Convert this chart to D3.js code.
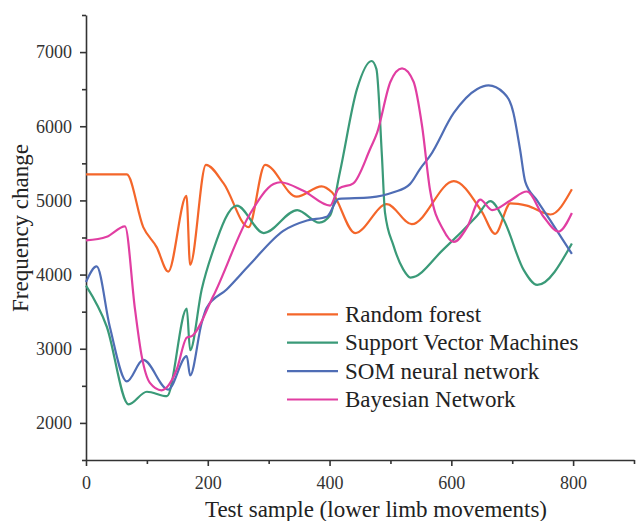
<!DOCTYPE html>
<html>
<head>
<meta charset="utf-8">
<script src="https://cdn.jsdelivr.net/npm/d3@7"></script>
<style>
  body { margin: 0; background: #fff; }
  text { font-family: "Liberation Serif", "Times New Roman", serif; fill: #222; }
</style>
</head>
<body>
<div class="canvas"></div>
<script>
// data
const seriesNames = ['Random forest', 'Support Vector Machines', 'SOM neural network', 'Bayesian Network'];
const seriesColors = ['#f4662a', '#3a9a78', '#4f6db5', '#e13ea2'];

const rfX = [0, 35, 67, 94, 116, 135, 165, 171, 197, 226, 267, 294, 346, 387, 404, 442, 494, 535, 604, 650, 672, 697, 724, 763, 798];
const rfY = [5350, 5350, 5350, 4640, 4370, 4040, 5060, 4130, 5480, 5230, 4640, 5480, 5050, 5190, 5110, 4560, 4950, 4680, 5260, 4850, 4550, 4960, 4930, 4810, 5150];

const svmX = [0, 34, 70, 100, 133, 165.5, 171, 190, 209, 247.6, 292, 347, 383, 401, 417, 445, 469, 477, 486, 491, 505, 521, 533, 587, 642, 664, 686, 719, 741, 798];
const svmY = [3850, 3300, 2250, 2420, 2360, 3540, 2980, 3800, 4330, 4930, 4560, 4870, 4700, 4800, 5380, 6500, 6880, 6770, 5600, 4840, 4390, 4070, 3960, 4340, 4790, 4990, 4740, 4060, 3860, 4420];

const somX = [0, 17.5, 39, 67, 94, 135, 165.5, 171, 190, 198, 231, 269.5, 324, 363, 395.5, 415, 467, 505, 532, 549, 565, 604, 642, 661, 686, 702, 713, 721.5, 740.7, 762.5, 798];
const somY = [3900, 4110, 3300, 2560, 2850, 2450, 2900, 2640, 3350, 3550, 3800, 4140, 4590, 4730, 4780, 5020, 5040, 5110, 5220, 5430, 5600, 6180, 6500, 6550, 6450, 6180, 5680, 5250, 5000, 4730, 4280];

const bnX = [0, 34, 64, 80.5, 91.5, 105, 124, 149, 165.5, 173.7, 209, 269.5, 308, 319, 357, 401, 415, 439, 467, 478, 500, 519, 538, 552, 565, 587, 604, 626, 647.5, 667, 697, 724, 751.5, 776, 798];
const bnY = [4460, 4510, 4650, 3530, 2900, 2540, 2440, 2720, 3150, 3170, 3710, 4820, 5220, 5245, 5130, 4930, 5160, 5230, 5700, 5910, 6600, 6780, 6600, 6000, 5140, 4600, 4440, 4640, 5010, 4870, 5000, 5120, 4780, 4580, 4830];

const xTicks = [0, 200, 400, 600, 800];
const xMinor = [100, 300, 500, 700, 900];
const yTicks = [2000, 3000, 4000, 5000, 6000, 7000];
const yMinor = [1500, 2500, 3500, 4500, 5500, 6500, 7500];

const series = [[rfX, rfY], [svmX, svmY], [somX, somY], [bnX, bnY]];

const width = 636;
const height = 521;

const svg = d3.select('.canvas')
    .append('svg')
    .attr('width', width)
    .attr('height', height);

// scales
const x = d3.scaleLinear().domain([0, 900]).range([86, 634]);
const y = d3.scaleLinear().domain([1500, 7500]).range([460, 15]);

// minor ticks
svg.append('g')
    .attr('transform', 'translate(0,460)')
    .call(d3.axisBottom(x).tickValues(xMinor).tickSize(4).tickFormat(''))
    .call(g => g.select('.domain').remove());

svg.append('g')
    .attr('transform', 'translate(86,0)')
    .call(d3.axisLeft(y).tickValues(yMinor).tickSize(4).tickFormat(''))
    .call(g => g.select('.domain').remove());

// main axes
const xAxisGroup = svg.append('g')
    .attr('transform', 'translate(0,460)')
    .call(d3.axisBottom(x).tickValues(xTicks).tickFormat(d3.format('d'))
        .tickSize(6).tickSizeOuter(0).tickPadding(10));

const yAxisGroup = svg.append('g')
    .attr('transform', 'translate(86,0)')
    .call(d3.axisLeft(y).tickValues(yTicks).tickFormat(d3.format('d'))
        .tickSize(6).tickSizeOuter(0).tickPadding(8));

svg.selectAll('g')
    .attr('font-family', '"Liberation Serif", serif')
    .attr('font-size', 18);

svg.selectAll('.tick line, .domain')
    .attr('stroke', '#333')
    .attr('stroke-width', 1.6);

svg.selectAll('.tick text')
    .style('font-family', '"Liberation Serif", serif')
    .style('font-size', '18px')
    .style('fill', '#333');

// line generator
const line = d3.line()
    .curve(d3.curveMonotoneX)
    .x(d => x(d[0]))
    .y(d => y(d[1]));

series.forEach((s, i) => {
    const pts = s[0].map((v, j) => [v, s[1][j]]);
    svg.append('path')
        .datum(pts)
        .attr('fill', 'none')
        .attr('stroke', seriesColors[i])
        .attr('stroke-width', 2.2)
        .attr('stroke-linejoin', 'round')
        .attr('d', line);
});

// legend
const legend = svg.append('g');
seriesNames.forEach((name, i) => {
    const ly = 314.3 + i * 28.4;
    legend.append('line')
        .attr('x1', 287).attr('x2', 338)
        .attr('y1', ly).attr('y2', ly)
        .attr('stroke', seriesColors[i])
        .attr('stroke-width', 2.2);
    legend.append('text')
        .attr('x', 345)
        .attr('y', ly + 7.5)
        .style('font-size', '23px')
        .text(name);
});

// axis titles
svg.append('text')
    .attr('x', 376)
    .attr('y', 517)
    .attr('text-anchor', 'middle')
    .style('font-size', '23px')
    .text('Test sample (lower limb movements)');

svg.append('text')
    .attr('transform', 'translate(28,228) rotate(-90)')
    .attr('text-anchor', 'middle')
    .style('font-size', '23px')
    .text('Frequency change');
</script>
</body>
</html>
